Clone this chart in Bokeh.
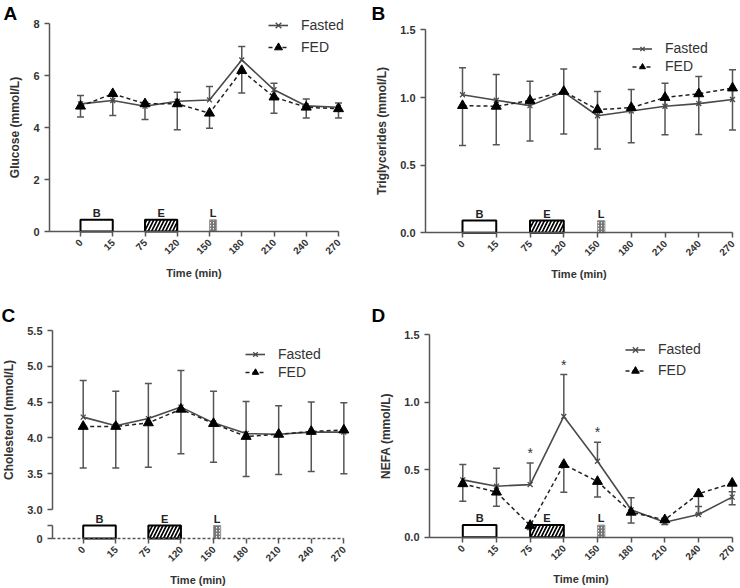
from bokeh.plotting import figure
from bokeh.models import (ColumnDataSource, Whisker, TeeHead, FixedTicker, Legend, LegendItem,
                          Label, LabelSet, Range1d, PrintfTickFormatter, LinearAxis)
from bokeh.layouts import column, row
from bokeh.embed import file_html
from bokeh.resources import INLINE
from bokeh.core.properties import value

# ---------------- data ----------------
times = ["0", "15", "75", "120", "150", "180", "210", "240", "270"]

glucose_fasted = [4.91, 5.04, 4.82, 5.01, 5.06, 6.60, 5.45, 4.83, 4.78]
glucose_fasted_err = [0.32, 0.25, 0.15, 0.35, 0.52, 0.52, 0.25, 0.27, 0.16]
glucose_fed = [4.82, 5.30, 4.91, 4.91, 4.55, 6.19, 5.17, 4.78, 4.72]
glucose_fed_err = [0.42, 0.84, 0.60, 1.00, 0.58, 0.86, 0.62, 0.41, 0.35]

tg_fasted = [1.02, 0.98, 0.94, 1.04, 0.865, 0.90, 0.935, 0.955, 0.985]
tg_fasted_err = [0.20, 0.19, 0.18, 0.17, 0.18, 0.16, 0.17, 0.20, 0.22]
tg_fed = [0.94, 0.935, 0.978, 1.045, 0.91, 0.925, 1.00, 1.027, 1.07]
tg_fed_err = [0.295, 0.285, 0.30, 0.315, 0.29, 0.26, 0.275, 0.30, 0.31]

chol_fasted = [4.29, 4.17, 4.27, 4.43, 4.21, 4.06, 4.05, 4.08, 4.08]
chol_fasted_err = [0.51, 0.48, 0.49, 0.51, 0.44, 0.45, 0.40, 0.42, 0.41]
chol_fed = [4.16, 4.16, 4.21, 4.40, 4.20, 4.02, 4.05, 4.09, 4.11]
chol_fed_err = [0.58, 0.58, 0.62, 0.62, 0.54, 0.56, 0.56, 0.56, 0.61]

nefa_fasted = [0.425, 0.378, 0.39, 0.895, 0.563, 0.203, 0.111, 0.168, 0.297]
nefa_fasted_err = [0.114, 0.133, 0.16, 0.311, 0.141, 0.089, 0.03, 0.06, 0.04]
nefa_fed = [0.396, 0.334, 0.087, 0.539, 0.413, 0.185, 0.129, 0.322, 0.40]
nefa_fed_err = [0.129, 0.104, 0.03, 0.205, 0.115, 0.08, 0.035, 0.15, 0.16]
nefa_star_idx = [2, 3, 4]

# meals (positions in time-point index units)
meal_labels = ["B", "E", "L"]
meal_start = [0, 2, 4]
meal_end = [1, 3, 4.22]
meal_fill = ["white", "black", "white"]
meal_line = ["black", "black", "#999999"]
meal_line_w = [2, 2, 1]
meal_hatch = [" ", "/", "/"]
meal_hatch_color = ["white", "white", "#777777"]
meal_hatch_scale = [6, 7, 3]

FONT = "Liberation Sans"
AX = "#555555"
TXT = "#333333"
idx = list(range(len(times)))


def style_axis(ax):
    ax.axis_line_color = AX
    ax.axis_line_width = 1.5
    ax.major_tick_line_color = AX
    ax.major_tick_line_width = 1.5
    ax.major_tick_out = 5
    ax.major_tick_in = 0
    ax.minor_tick_line_color = None
    ax.major_label_text_font = FONT
    ax.major_label_text_font_style = "bold"
    ax.major_label_text_font_size = "11px"
    ax.major_label_text_color = TXT
    ax.major_label_standoff = 5
    ax.axis_label_text_font = FONT
    ax.axis_label_text_font_style = "bold"
    ax.axis_label_text_font_size = "12px"
    ax.axis_label_text_color = TXT
    ax.axis_label_standoff = 8


def style_x(xa, axis_x):
    style_axis(xa)
    xa.ticker = FixedTicker(ticks=idx, minor_ticks=[])
    xa.major_label_overrides = {i: t for i, t in enumerate(times)}
    xa.major_label_orientation = 0.785
    xa.major_label_text_font_size = "10px"
    xa.major_label_standoff = 4
    xa.axis_label = "Time (min)"
    xa.axis_label_text_font_size = "11px"
    xa.axis_label_standoff = 6
    xa.fixed_location = 0
    xa.bounds = (axis_x, idx[-1])


def make_panel(box, axis_px, x0, u, yval, ypx, v):
    """box = figure rectangle on the page; x0/u: pixel of first time point and px per step;
    (yval, ypx, v): a value, its pixel row and px per unit."""
    fx, fy, fw, fh = box
    xr = Range1d((fx - x0) / u, (fx + fw - x0) / u)
    yr = Range1d(yval - (fy + fh - ypx) / v, yval + (ypx - fy) / v)
    p = figure(width=fw, height=fh, x_range=xr, y_range=yr, output_backend="svg",
               toolbar_location=None, min_border=0)
    p.grid.visible = False
    p.outline_line_color = None
    return p, (axis_px - x0) / u


def add_series(p, fasted, fasted_err, fed, fed_err, leg_xy, row_h):
    up = ColumnDataSource(dict(x=idx, lo=fasted, hi=[m + e for m, e in zip(fasted, fasted_err)]))
    dn = ColumnDataSource(dict(x=idx, lo=[m - e for m, e in zip(fed, fed_err)], hi=fed))
    p.add_layout(Whisker(base="x", lower="lo", upper="hi", source=up, line_color=AX, line_width=1.5,
                         upper_head=TeeHead(size=7, line_color=AX, line_width=1.5), lower_head=None))
    p.add_layout(Whisker(base="x", lower="lo", upper="hi", source=dn, line_color=AX, line_width=1.5,
                         lower_head=TeeHead(size=7, line_color=AX, line_width=1.5), upper_head=None))
    lf = p.line(idx, fasted, line_color="#4a4a4a", line_width=1.6)
    sf = p.scatter(idx, fasted, marker="x", size=7, line_color="#4a4a4a", line_width=1.3)
    ld = p.line(idx, fed, line_color="#222222", line_width=1.5, line_dash="4 3")
    sd = p.scatter(idx, fed, marker="triangle", size=10, fill_color="black", line_color="black")
    leg = Legend(items=[LegendItem(label="Fasted", renderers=[lf, sf]),
                        LegendItem(label="FED", renderers=[ld, sd])],
                 location=leg_xy, orientation="vertical", padding=0, margin=0, spacing=2,
                 border_line_color=None, background_fill_alpha=0,
                 label_text_font=FONT, label_text_font_size="14px", label_text_color=TXT,
                 glyph_width=20, glyph_height=row_h, label_height=row_h, label_standoff=13)
    p.add_layout(leg)


def add_meals(p, h, range_name="default"):
    src = ColumnDataSource(dict(l=meal_start, r=meal_end, t=[h] * 3, b=[0] * 3,
                                fill=meal_fill, lc=meal_line, lw=meal_line_w, hatch=meal_hatch,
                                hc=meal_hatch_color, hs=meal_hatch_scale))
    p.quad(left="l", right="r", top="t", bottom="b", source=src, fill_color="fill",
           line_color="lc", line_width="lw", hatch_pattern="hatch", hatch_color="hc",
           hatch_scale="hs", hatch_weight=1.5, y_range_name=range_name)
    lab = ColumnDataSource(dict(x=[(a + b) / 2 for a, b in zip(meal_start, meal_end)],
                                y=[h] * 3, t=meal_labels))
    p.add_layout(LabelSet(x="x", y="y", text="t", source=lab, y_offset=3, y_range_name=range_name,
                          text_align="center", text_baseline="alphabetic",
                          text_font=value(FONT), text_font_style="bold",
                          text_font_size="11px", text_color="#222222"))


def letter(p, txt, x, y):
    p.add_layout(Label(x=x, y=y, x_units="screen", y_units="screen", text=txt,
                       text_font=FONT, text_font_style="bold", text_font_size="19px",
                       text_baseline="top", text_align="left", text_color="black"))


def style_y(p, axis_x, ticks, fmt, label, bounds):
    ya = p.yaxis[0]
    style_axis(ya)
    ya.ticker = FixedTicker(ticks=ticks)
    if fmt:
        ya.formatter = PrintfTickFormatter(format=fmt)
    ya.axis_label = label
    ya.fixed_location = axis_x
    ya.bounds = bounds


# ---------------- A: glucose ----------------
pa, ax_a = make_panel((0, 0, 370, 296), 49, 80, 32.25, 0, 231, 26.0)
style_y(pa, ax_a, [0, 2, 4, 6, 8], None, "Glucose (mmol/L)", (0, 8))
style_x(pa.xaxis[0], ax_a)
add_meals(pa, 0.45)
add_series(pa, glucose_fasted, glucose_fasted_err, glucose_fed, glucose_fed_err, (268, 239), 20)
letter(pa, "A", 3, 294)

# ---------------- B: triglycerides ----------------
pb, ax_b = make_panel((370, 0, 370, 296), 425, 462, 33.75, 0, 232.3, 135.3)
style_y(pb, ax_b, [0, 0.5, 1.0, 1.5], "%.1f", "Triglycerides (mmol/L)", (0, 1.5))
style_x(pb.xaxis[0], ax_b)
add_meals(pb, 0.09)
add_series(pb, tg_fasted, tg_fasted_err, tg_fed, tg_fed_err, (262, 222), 15)
letter(pb, "B", 1, 294)

# ---------------- C: cholesterol (broken axis) ----------------
pc, ax_c = make_panel((0, 296, 370, 292), 52, 82.7, 32.58, 3.0, 509, 71.6)
# lower strip of the broken axis: 0 at px 538, one strip unit = 13 px
pc.extra_y_ranges = {"low": Range1d(-(588 - 538) / 13.0, (538 - 296) / 13.0)}
style_y(pc, ax_c, [3.0, 3.5, 4.0, 4.5, 5.0, 5.5], "%.1f", "Cholesterol (mmol/L)", (3.0, 5.5))
low_axis = LinearAxis(y_range_name="low")
style_axis(low_axis)
low_axis.ticker = FixedTicker(ticks=[0, 1])
low_axis.major_label_overrides = {0: "0", 1: ""}
low_axis.fixed_location = ax_c
low_axis.bounds = (0, 1)
pc.add_layout(low_axis, "left")
xc = pc.xaxis[0]
xc.y_range_name = "low"
style_x(xc, ax_c)
xc.axis_line_dash = "3 2"
xc.axis_line_width = 1.3
add_meals(pc, 1.0, "low")
add_series(pc, chol_fasted, chol_fasted_err, chol_fed, chol_fed_err, (245, 208), 16)
letter(pc, "C", 1, 284)

# ---------------- D: NEFA ----------------
pd_, ax_d = make_panel((370, 296, 370, 292), 429, 462.3, 33.67, 0, 536.7, 134.9)
style_y(pd_, ax_d, [0, 0.5, 1.0, 1.5], "%.1f", "NEFA (mmol/L)", (0, 1.5))
style_x(pd_.xaxis[0], ax_d)
add_meals(pd_, 0.09)
add_series(pd_, nefa_fasted, nefa_fasted_err, nefa_fed, nefa_fed_err, (255, 208.5), 19)
star_src = ColumnDataSource(dict(x=nefa_star_idx,
                                 y=[nefa_fasted[i] + nefa_fasted_err[i] for i in nefa_star_idx],
                                 t=["*"] * len(nefa_star_idx)))
pd_.add_layout(LabelSet(x="x", y="y", text="t", source=star_src, y_offset=5,
                        text_align="center", text_baseline="alphabetic",
                        text_font=value(FONT), text_font_size="14px", text_color=TXT))
letter(pd_, "D", 1, 284)

layout = column(row(pa, pb), row(pc, pd_))
open("out.html", "w").write(file_html(layout, INLINE))
